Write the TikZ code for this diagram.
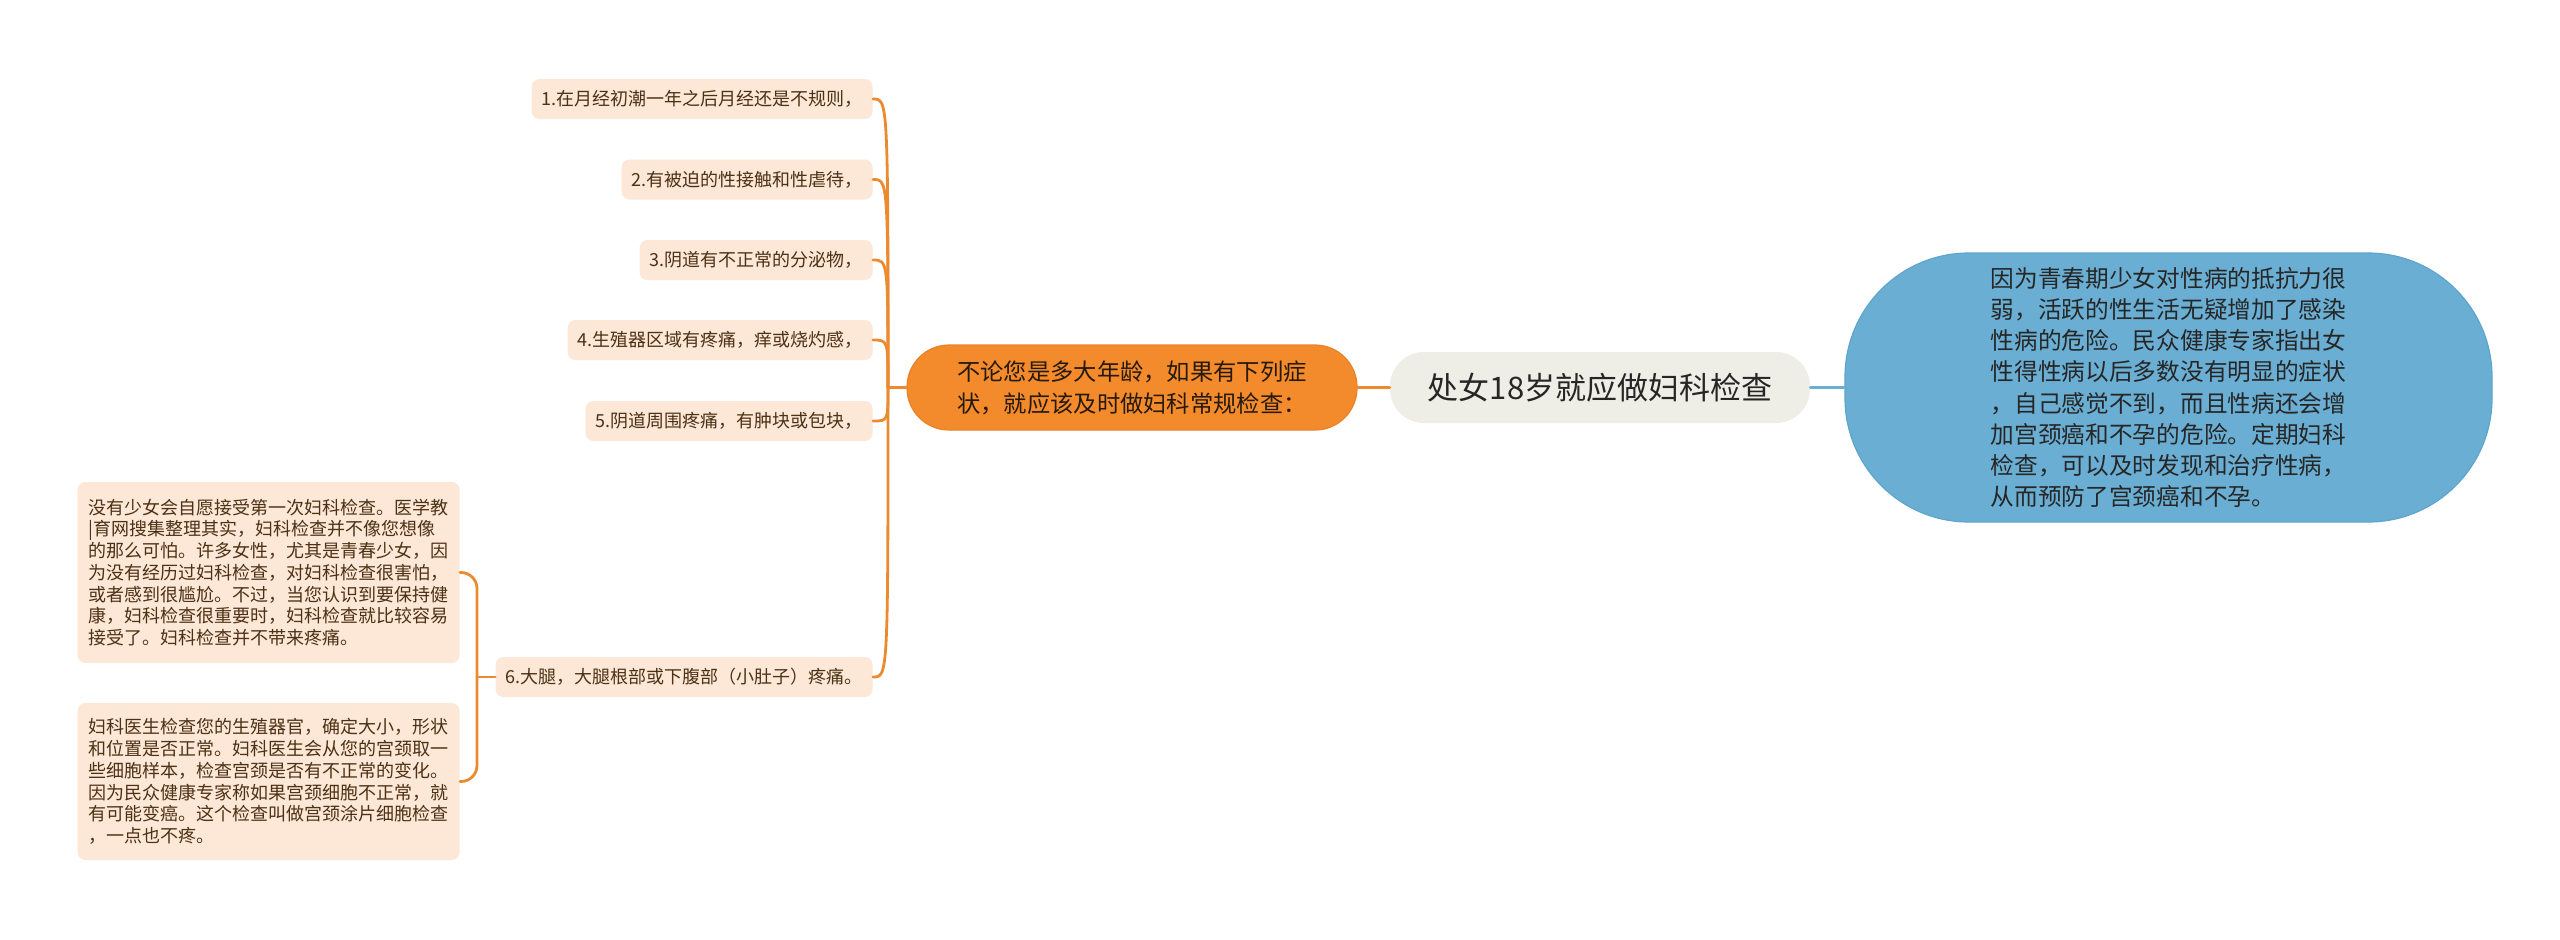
\documentclass[tikz,border=0pt]{standalone}
\usepackage{fontspec}
\setmainfont{Noto Sans CJK SC}
\definecolor{orline}{HTML}{EC8A2F}
\definecolor{orfill}{HTML}{F38B2C}
\definecolor{ordraw}{HTML}{E8832A}
\definecolor{leafbg}{HTML}{FDE7D6}
\definecolor{leafink}{HTML}{4B3115}
\definecolor{rootbg}{HTML}{EEEEE6}
\definecolor{bluebg}{HTML}{6AAFD3}
\definecolor{bluedraw}{HTML}{5FA5CB}
\begin{document}
\begin{tikzpicture}[x=0.5pt, y=-0.5pt, line join=round, line cap=round,
    leaf/.style={fill=leafbg, text=leafink, rounded corners=4pt, inner xsep=5pt, inner ysep=0pt,
      minimum height=20pt, anchor=east, font=\fontsize{9pt}{10.85pt}\selectfont},
    note/.style={leaf, align=left, inner xsep=5.5pt},
    branch/.style={draw=orline, line width=1.4pt},
    bluebranch/.style={draw=bluebg, line width=1.4pt}]
  \fill[white] (0,0) rectangle (2560,939);
  \useasboundingbox (0,0) rectangle (2560,939);
  % --- Chủ đề chính ---
  \node[fill=rootbg, text=black!85, rounded corners=17pt, minimum width=210pt, minimum height=35.5pt,
    font=\fontsize{15.5pt}{18pt}\selectfont] (root) at (1600,387.5) {处女18岁就应做妇科检查};
  % --- Nhánh phải (xanh) ---
  \node[fill=bluebg, draw=bluedraw, line width=0.6pt, text=black!85, rounded corners=62pt, align=left,
    minimum width=323.5pt, minimum height=134.5pt, font=\fontsize{11.85pt}{15.6pt}\selectfont]
    (why) at (2168.5,387.5) {因为青春期少女对性病的抵抗力很\\弱，活跃的性生活无疑增加了感染\\性病的危险。民众健康专家指出女\\性得性病以后多数没有明显的症状\\，自己感觉不到，而且性病还会增\\加宫颈癌和不孕的危险。定期妇科\\检查，可以及时发现和治疗性病，\\从而预防了宫颈癌和不孕。};
  % --- Nhánh trái (cam) ---
  \node[fill=orfill, draw=ordraw, line width=0.6pt, text=black!80!brown, rounded corners=21pt, align=left,
    minimum width=225pt, minimum height=42.5pt, font=\fontsize{11.65pt}{16pt}\selectfont]
    (sympt) at (1132,387.5) {不论您是多大年龄，如果有下列症\\状，就应该及时做妇科常规检查：};
  \draw[branch] (sympt.east) -- (root.west);
  \draw[bluebranch] (root.east) -- (why.west);
  % --- Các triệu chứng ---
  \foreach \i/\y/\txt in {1/99/{1.在月经初潮一年之后月经还是不规则，},
                          2/179.5/{2.有被迫的性接触和性虐待，},
                          3/260/{3.阴道有不正常的分泌物，},
                          4/340/{4.生殖器区域有疼痛，痒或烧灼感，},
                          5/421/{5.阴道周围疼痛，有肿块或包块，},
                          6/677/{6.大腿，大腿根部或下腹部（小肚子）疼痛。}}
    \node[leaf] (l\i) at (873,\y) {\txt};
  \coordinate (j1) at (888,387.5);
  \draw[branch] (sympt.west) -- (j1);
  \foreach \i in {1,...,6}
    \draw[branch] (j1) .. controls (j1 |- l\i.east) and (j1 |- l\i.east) .. (l\i.east);
  % --- Giải thích cho mục 6 ---
  \node[note, minimum height=90.5pt] (n1) at (460,572.5)
    {没有少女会自愿接受第一次妇科检查。医学教\\|育网搜集整理其实，妇科检查并不像您想像\\的那么可怕。许多女性，尤其是青春少女，因\\为没有经历过妇科检查，对妇科检查很害怕，\\或者感到很尴尬。不过，当您认识到要保持健\\康，妇科检查很重要时，妇科检查就比较容易\\接受了。妇科检查并不带来疼痛。};
  \node[note, minimum height=78.5pt] (n2) at (460,781.5)
    {妇科医生检查您的生殖器官，确定大小，形状\\和位置是否正常。妇科医生会从您的宫颈取一\\些细胞样本，检查宫颈是否有不正常的变化。\\因为民众健康专家称如果宫颈细胞不正常，就\\有可能变癌。这个检查叫做宫颈涂片细胞检查\\，一点也不疼。};
  \coordinate (j6) at (477,677);
  \draw[branch] (l6.west) -- (j6);
  \draw[branch, rounded corners=8pt] (n1.east) -| (j6) |- (n2.east);
\end{tikzpicture}
\end{document}
